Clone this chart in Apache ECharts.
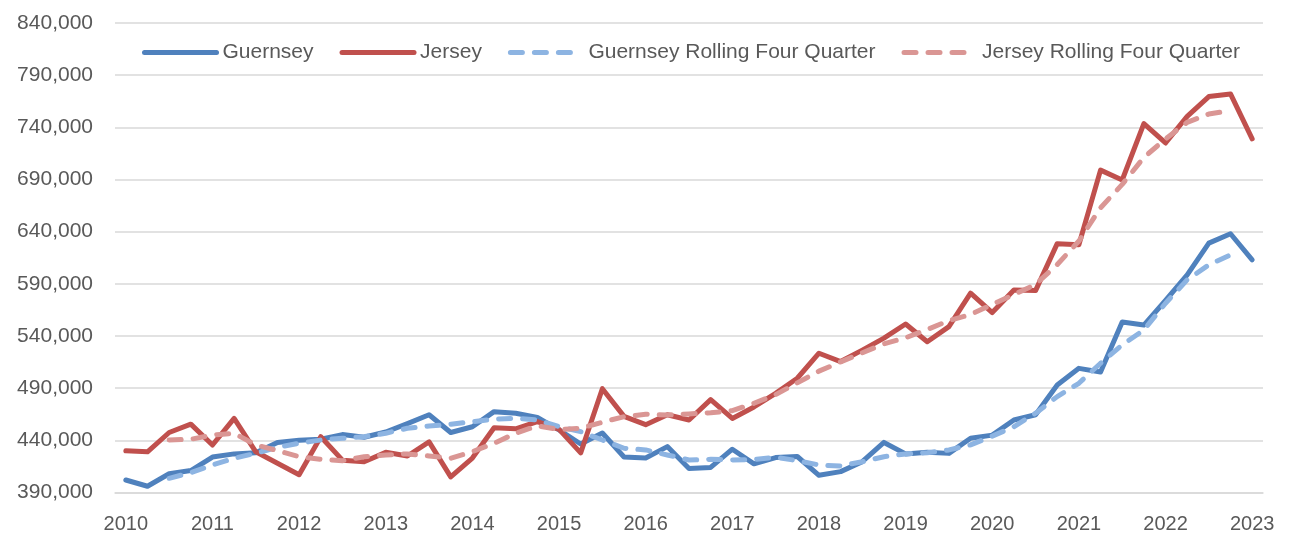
<!DOCTYPE html>
<html>
<head>
<meta charset="utf-8">
<script src="https://cdn.jsdelivr.net/npm/echarts@6/dist/echarts.min.js"></script>
<style>
html,body{margin:0;padding:0;background:#fff;}
#chart{width:1289px;height:537px;}
</style>
</head>
<body>
<div id="chart"></div>
<script>
// Quarterly categories, 2010 Q1 .. 2023 Q1
const categories = [
  '2010 Q1','2010 Q2','2010 Q3','2010 Q4',
  '2011 Q1','2011 Q2','2011 Q3','2011 Q4',
  '2012 Q1','2012 Q2','2012 Q3','2012 Q4',
  '2013 Q1','2013 Q2','2013 Q3','2013 Q4',
  '2014 Q1','2014 Q2','2014 Q3','2014 Q4',
  '2015 Q1','2015 Q2','2015 Q3','2015 Q4',
  '2016 Q1','2016 Q2','2016 Q3','2016 Q4',
  '2017 Q1','2017 Q2','2017 Q3','2017 Q4',
  '2018 Q1','2018 Q2','2018 Q3','2018 Q4',
  '2019 Q1','2019 Q2','2019 Q3','2019 Q4',
  '2020 Q1','2020 Q2','2020 Q3','2020 Q4',
  '2021 Q1','2021 Q2','2021 Q3','2021 Q4',
  '2022 Q1','2022 Q2','2022 Q3','2022 Q4',
  '2023 Q1'
];

const guernsey = [
  402000, 396000, 408000, 411000,
  424000, 427000, 428000, 438000,
  440000, 441000, 445500, 443000,
  448000, 456000, 464500, 447500,
  453000, 467500, 466000, 462000,
  450000, 436500, 447000, 424000,
  423000, 434000, 413000, 414000,
  431500, 417500, 423500, 424500,
  406500, 410000, 419500, 438000,
  427000, 428500, 427500, 442000,
  445000, 459500, 464500, 493000,
  509000, 505500, 553500, 550500,
  574000, 598500, 629000, 638000,
  613000
];

const jersey = [
  430000, 429000, 447500, 455500,
  435500, 461000, 429000, 418000,
  407000, 443500, 421000, 419500,
  428500, 425000, 438500, 405000,
  423000, 452000, 451000, 458000,
  450500, 428000, 489500, 463000,
  455000, 464500, 459500, 479000,
  461000, 472000, 485000, 499500,
  523500, 515500, 526500, 538000,
  551500, 534500, 549000, 581000,
  562500, 584000, 583500, 628500,
  627500, 699000, 689500, 743500,
  725000, 750500, 769500, 772000,
  729000
];

const guernseyRolling = [
  null, null, 403600, 409000,
  416400, 422800, 427600, 433300,
  437200, 440300, 442000, 443500,
  446800, 451600, 453800, 455400,
  457900, 460200, 461200, 459500,
  453100, 448300, 440300, 432400,
  430800, 426000, 421200, 421800,
  421200, 421500, 423800, 420500,
  416400, 415400, 419500, 424300,
  427000, 428200, 430800, 435600,
  444000, 453100, 466000, 481900,
  494700, 513900, 531500, 545800,
  571400, 593800, 608200, 617800,
  null
];

const jerseyRolling = [
  null, null, 440300, 441000,
  445100, 446800, 435600, 430100,
  424300, 421800, 420500, 424300,
  426000, 427000, 425000, 422800,
  429100, 437200, 446800, 453900,
  450300, 451600, 457400, 462700,
  465000, 464300, 465300, 466500,
  468400, 475500, 483800, 495100,
  506300, 515200, 523900, 532500,
  538300, 546200, 554800, 560600,
  570200, 579800, 589400, 608500,
  631000, 662900, 685300, 711200,
  728800, 744800, 752800, 756000,
  null
];

const seriesNames = ['Guernsey', 'Jersey', 'Guernsey Rolling Four Quarter', 'Jersey Rolling Four Quarter'];
const yTicks = { min: 390000, max: 840000, interval: 50000 };

const textColor = '#595959';
const fontFamily = '"Liberation Sans", Arial, sans-serif';

const chart = echarts.init(document.getElementById('chart'), null, { renderer: 'canvas' });

function lineSeries(name, data, color, dashed) {
  return {
    name: name,
    type: 'line',
    data: data,
    symbol: 'none',
    showSymbol: false,
    connectNulls: false,
    animation: false,
    itemStyle: { color: color },
    lineStyle: {
      color: color,
      width: 5,
      type: dashed ? [12, 12] : 'solid',
      cap: 'round',
      join: 'round'
    }
  };
}

chart.setOption({
  animation: false,
  backgroundColor: '#ffffff',
  grid: { left: 115, right: 26, top: 23, bottom: 44.5, containLabel: false },
  legend: {
    left: 137,
    top: 37,
    itemWidth: 72,
    itemHeight: 16,
    itemGap: 26,
    itemStyle: { opacity: 0 },
    lineStyle: { width: 5, cap: 'round' },
    textStyle: { color: textColor, fontSize: 21, fontFamily: fontFamily, padding: [0, 0, 0, 1] },
    data: seriesNames
  },
  xAxis: {
    type: 'category',
    data: categories,
    boundaryGap: true,
    axisLine: { show: true, lineStyle: { color: '#d9d9d9', width: 1.5 } },
    axisTick: { show: false },
    axisLabel: {
      interval: 3,
      color: textColor,
      fontSize: 20,
      fontFamily: fontFamily,
      margin: 22,
      formatter: function (v) { return v.slice(0, 4); }
    },
    splitLine: { show: false }
  },
  yAxis: {
    type: 'value',
    min: yTicks.min,
    max: yTicks.max,
    interval: yTicks.interval,
    axisLine: { show: false },
    axisTick: { show: false },
    axisLabel: {
      color: textColor,
      fontSize: 21,
      fontFamily: fontFamily,
      margin: 22,
      formatter: function (v) { return v.toLocaleString('en-US'); }
    },
    splitLine: { show: true, lineStyle: { color: '#d9d9d9', width: 1.5 } }
  },
  series: [
    lineSeries(seriesNames[0], guernsey, '#4f81bd', false),
    lineSeries(seriesNames[1], jersey, '#c0504d', false),
    lineSeries(seriesNames[2], guernseyRolling, '#8db4e2', true),
    lineSeries(seriesNames[3], jerseyRolling, '#da9694', true)
  ]
});
</script>
</body>
</html>
